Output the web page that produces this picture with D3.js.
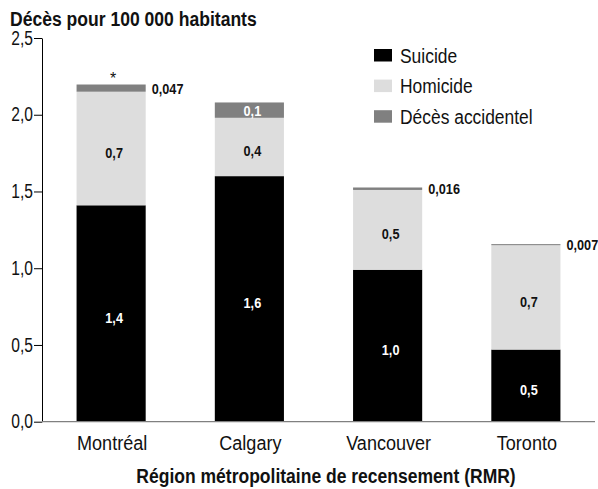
<!DOCTYPE html>
<html lang="fr">
<head>
<meta charset="utf-8">
<script src="https://cdn.jsdelivr.net/npm/d3@7/dist/d3.min.js"></script>
<style>
  html, body { margin: 0; padding: 0; background: #ffffff; }
  svg { display: block; }
  text { font-family: "Liberation Sans", Arial, sans-serif; fill: #111; }
</style>
</head>
<body>
<svg id="chart" width="598" height="489"></svg>
<script>
// Taux de décès pour 100 000 habitants, par RMR
const cities     = ["Montréal", "Calgary", "Vancouver", "Toronto"];
const suicide    = [1.41, 1.60, 0.99, 0.47];
const homicide   = [0.74, 0.38, 0.52, 0.68];
const accidental = [0.047, 0.10, 0.016, 0.007];
const notes      = ["*", "", "", ""];
const yTicks     = [0, 0.5, 1.0, 1.5, 2.0, 2.5];
const seriesKeys   = ["suicide", "homicide", "accidental"];
const seriesLabels = ["Suicide", "Homicide", "Décès accidentel"];
const seriesColors = ["#000000", "#dddddd", "#808080"];
const labelColors  = ["#ffffff", "#111111", "#ffffff"];

const svg = d3.select("#chart");

const fr = d3.formatLocale({ decimal: ",", thousands: " ", grouping: [3], currency: ["", " $"] });
const fmt1 = fr.format(".1f");
const fmtSmall = fr.format(".2~r");

// Condensed lettering: squeeze each text horizontally around its own x anchor
function squeeze(sel, k) {
  sel.each(function () {
    const t = d3.select(this);
    const tx = +t.attr("x") || 0;
    const ty = +t.attr("y") || 0;
    t.attr("x", 0).attr("y", 0)
     .attr("transform", `translate(${tx},${ty}) scale(${k},1)`);
  });
}

const rows = cities.map((c, i) => ({
  city: c, suicide: suicide[i], homicide: homicide[i], accidental: accidental[i], note: notes[i]
}));

const x = d3.scaleBand().domain(cities).range([42, 595]).paddingInner(0.5).paddingOuter(0.25);
const y = d3.scaleLinear().domain([0, 2.5]).range([421.7, 38]);

const stacked = d3.stack().keys(seriesKeys)(rows);

// Stacked bars
const layers = svg.append("g").selectAll("g")
  .data(stacked).join("g")
  .attr("fill", (d, i) => seriesColors[i]);

layers.selectAll("rect")
  .data(d => d.map(p => ({ p, city: p.data.city })))
  .join("rect")
  .attr("x", d => x(d.city))
  .attr("width", x.bandwidth())
  .attr("y", d => y(d.p[1]))
  .attr("height", d => Math.max(1, y(d.p[0]) - y(d.p[1])));

// Segment value labels
const valueLabels = svg.append("g");
stacked.forEach((layer, li) => {
  layer.forEach(p => {
    const v = p.data[seriesKeys[li]];
    const h = y(p[0]) - y(p[1]);
    const cx = x(p.data.city) + x.bandwidth() / 2 + 3;
    const cy = (y(p[0]) + y(p[1])) / 2;
    const isSmall = li === 2;
    const t = valueLabels.append("text")
      .attr("font-size", 15.5)
      .attr("font-weight", "bold");
    if (isSmall && h < 12) {
      t.attr("x", x(p.data.city) + x.bandwidth() + 6)
       .attr("y", cy)
       .attr("dy", "0.35em")
       .attr("text-anchor", "start")
       .style("fill", "#111")
       .text(fmtSmall(v));
    } else {
      t.attr("x", cx)
       .attr("y", cy)
       .attr("dy", isSmall ? "0.35em" : "0.6em")
       .attr("text-anchor", "middle")
       .style("fill", labelColors[li])
       .text(isSmall ? fmtSmall(v) : fmt1(v));
    }
  });
});
squeeze(valueLabels.selectAll("text"), 0.82);

// Footnote markers above bars
svg.append("g").selectAll("text")
  .data(rows.filter(r => r.note))
  .join("text")
  .attr("x", d => x(d.city) + x.bandwidth() / 2 + 2)
  .attr("y", d => y(d.suicide + d.homicide + d.accidental) - 1)
  .attr("text-anchor", "middle")
  .attr("font-size", 16)
  .text(d => d.note);

// Y axis
const yAxis = svg.append("g")
  .attr("transform", "translate(42,0)")
  .call(d3.axisLeft(y).tickValues(yTicks).tickFormat(fmt1).tickSize(8).tickSizeOuter(0).tickPadding(1));
yAxis.select(".domain").attr("stroke", "#000");
yAxis.selectAll(".tick line").attr("stroke", "#000");
yAxis.selectAll(".tick text")
  .attr("font-size", 19.5)
  .attr("font-family", null)
  .style("fill", "#111")
  .each(function () {
    const t = d3.select(this);
    const tx = +t.attr("x");
    t.attr("x", 0).attr("transform", `translate(${tx},0) scale(0.8,1)`);
  });

// Baseline
svg.append("line")
  .attr("x1", 42).attr("x2", 595)
  .attr("y1", y(0)).attr("y2", y(0))
  .attr("stroke", "#808080").attr("stroke-width", 1.2);

// Category labels
const catLabels = svg.append("g").selectAll("text")
  .data(cities).join("text")
  .attr("x", d => x(d) + x.bandwidth() / 2 + 1)
  .attr("y", 450)
  .attr("text-anchor", "middle")
  .attr("font-size", 21)
  .text(d => d);
squeeze(catLabels, 0.86);

// Axis titles
const yTitle = svg.append("text")
  .attr("x", 10).attr("y", 26)
  .attr("font-size", 21).attr("font-weight", "bold")
  .text("Décès pour 100 000 habitants");
squeeze(yTitle, 0.836);

const xTitle = svg.append("text")
  .attr("x", 326).attr("y", 483)
  .attr("text-anchor", "middle")
  .attr("font-size", 21).attr("font-weight", "bold")
  .text("Région métropolitaine de recensement (RMR)");
squeeze(xTitle, 0.834);

// Legend
const legend = svg.append("g").attr("transform", "translate(374,49)");
const items = legend.selectAll("g")
  .data(seriesLabels).join("g")
  .attr("transform", (d, i) => `translate(0,${i * 30.6})`);
items.append("rect")
  .attr("width", 18).attr("height", 12.5)
  .attr("fill", (d, i) => seriesColors[i]);
const legendText = items.append("text")
  .attr("x", 26).attr("y", 13.5)
  .attr("font-size", 21)
  .text(d => d);
squeeze(legendText, 0.83);
</script>
</body>
</html>
